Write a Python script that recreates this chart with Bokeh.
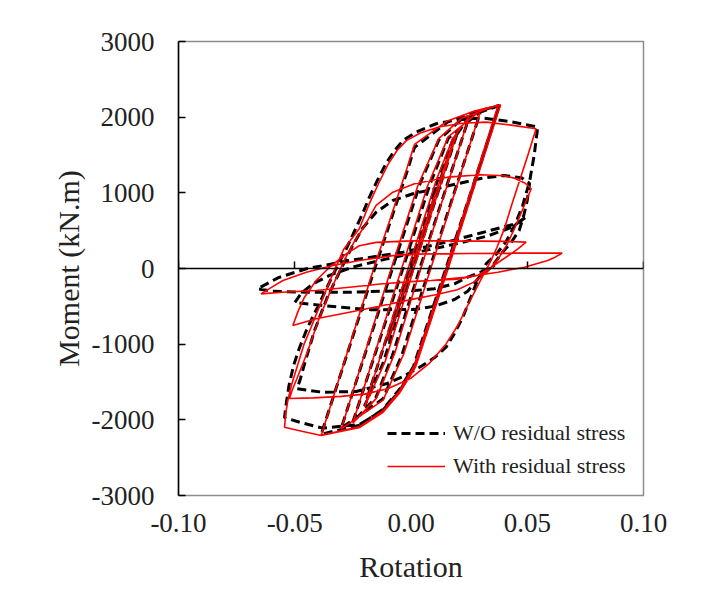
from bokeh.plotting import figure
from bokeh.models import LinearAxis, FixedTicker, Legend, Range1d
from bokeh.embed import file_html
from bokeh.resources import INLINE

# ---------------- data ----------------
# W/O residual stress (black dashed): rotation and moment, in loading order
wo_rot = [0, 0.010, -0.010, 0.014, 0.020, 0.0009, -0.012, -0.020, -0.0008, 0.012, 0.018, 0.025,
          0.0038, -0.008, -0.015, -0.025, -0.0035, 0.008, 0.016, 0.030, 0.0080, -0.004, -0.012, -0.030,
          -0.0080, 0.004, 0.012, 0.022, 0.038, 0.015, 0.001, -0.005, -0.012, -0.022, -0.0386,
          -0.0156, -0.0015, 0.0015, 0.0157, 0.0273, 0.038,
          0.0155, 0.0015, -0.005, -0.012, -0.022, -0.038, -0.047, -0.0544,
          -0.0535, -0.0525, -0.0505, -0.048, -0.0445, -0.040, -0.0335, -0.028, -0.0236, -0.0205, -0.0178,
          -0.0142, -0.0107, -0.007, -0.0035, 0.002, 0.0108, 0.020, 0.0302, 0.042, 0.0545,
          0.053, 0.051, 0.048, 0.0445, 0.041, 0.037, 0.0323, 0.028, 0.0223, 0.0185, 0.0151, 0.010, 0.0037,
          -0.0035, -0.0107, -0.0236, -0.038, -0.049,
          -0.0475, -0.046, -0.0415, -0.036, -0.030, -0.0255, -0.0209, -0.015, -0.0078, 0.0008, 0.010,
          0.020, 0.030, 0.040, 0.0475, 0.051,
          0.050, 0.0485, 0.0465, 0.043, 0.040, 0.0345, 0.030, 0.0244, 0.0187, 0.010, 0.0015, -0.017, -0.031, -0.050,
          -0.047, -0.042, -0.035, -0.025, -0.010, 0.005, 0.020, 0.033, 0.043, 0.0495,
          0.045, 0.030, 0.018, -0.0035, -0.0264, -0.045, -0.057, -0.066,
          -0.060, -0.045, -0.026, -0.012, 0.0015, 0.010, 0.0187, 0.0244, 0.030, 0.036]
wo_mom = [0, 940, -950, 1300, 1800, 0, -1250, -1820, 0, 1220, 1700, 2000,
          0, -1150, -1700, -2030, 0, 1100, 1720, 2080, 0, -1150, -1720, -2110,
          0, 1130, 1700, 1980, 2155, 0, -1300, -1600, -1860, -2070, -2190,
          0, 1300, 1600, 1934, 2066, 2155,
          0, -1300, -1620, -1870, -2060, -2110, -2040, -1970,
          -1750, -1550, -1282, -1050, -780, -500, -80, 250, 540, 750, 950,
          1180, 1390, 1560, 1690, 1800, 1913, 1965, 1990, 1945, 1868,
          1500, 1150, 830, 560, 360, 200, 62, -202, -644, -870, -1040, -1180, -1305,
          -1430, -1524, -1625, -1635, -1590,
          -1450, -1282, -820, -379, 0, 280, 529, 744, 899, 988, 1050,
          1120, 1190, 1230, 1200, 1124,
          900, 700, 500, 340, 238, 17, -92, -300, -410, -500, -540, -545, -510, -450,
          -320, -200, -90, 20, 130, 230, 330, 430, 540, 678,
          590, 470, 370, 215, 106, -4, -120, -268,
          -300, -313, -313, -300, -291, -268, -202, -115, -49, 40]

# With residual stress (red solid): rotation and moment, in loading order
with_rot = [0, 0.010, -0.010, 0.014, 0.020, 0.0012, -0.011, -0.020, -0.0012, 0.011, 0.018, 0.025,
            0.0042, -0.007, -0.015, -0.025, -0.0040, 0.007, 0.016, 0.030, 0.0085, -0.003, -0.012, -0.030,
            -0.0085, 0.003, 0.012, 0.022, 0.0375, 0.0152, 0.0015, -0.005, -0.012, -0.022, -0.0386,
            -0.0160, -0.002, 0.0015, 0.0157, 0.0273, 0.0385,
            0.016, 0.002, -0.005, -0.012, -0.022, -0.0386, -0.047, -0.0544,
            -0.0538, -0.053, -0.0515, -0.050, -0.048, -0.046, -0.043, -0.040, -0.034, -0.029, -0.0222,
            -0.018, -0.014, -0.010, -0.006, -0.002, 0.004, 0.012, 0.022, 0.0323, 0.043, 0.0538,
            0.0505, 0.047, 0.0435, 0.0402, 0.037, 0.034, 0.030, 0.025, 0.020, 0.015, 0.008, 0.0,
            -0.010, -0.020, -0.030, -0.042, -0.0523,
            -0.051, -0.049, -0.0445, -0.040, -0.034, -0.028, -0.0245, -0.0207, -0.015, -0.0078, 0.0015,
            0.0157, 0.030, 0.040, 0.0445, 0.049, 0.0517,
            0.048, 0.0445, 0.041, 0.038, 0.033, 0.027, 0.020, 0.010, 0.0015, -0.0121, -0.0265, -0.0408, -0.0508,
            -0.0485, -0.0458, -0.0408, -0.035, -0.0279, -0.0222, -0.015, 0.0, 0.020, 0.040, 0.0495,
            0.046, 0.043, 0.0345, 0.0287, 0.020, 0.0087, 0.0015, -0.0121, -0.0265, -0.0408, -0.0552, -0.0645,
            -0.0595, -0.0551, -0.045, -0.0336, -0.0222, -0.0078, 0.0015, 0.025, 0.045, 0.065,
            0.062, 0.0588, 0.0488, 0.0373, 0.023, 0.0087]
with_mom = [0, 950, -960, 1310, 1810, 0, -1220, -1830, 0, 1180, 1720, 2010,
            0, -1120, -1720, -2040, 0, 1080, 1740, 2090, 0, -1120, -1740, -2120,
            0, 1100, 1720, 1990, 2160, 0, -1280, -1620, -1880, -2090, -2205,
            0, 1300, 1640, 1950, 2080, 2165,
            0, -1300, -1650, -1900, -2100, -2208, -2150, -2098,
            -1900, -1750, -1550, -1400, -1200, -1000, -780, -550, -100, 250, 529,
            850, 1120, 1370, 1560, 1690, 1790, 1870, 1920, 1934, 1895, 1847,
            1520, 1190, 860, 530, 280, 80, -150, -450, -760, -1000, -1250, -1450,
            -1590, -1660, -1690, -1710, -1719,
            -1600, -1450, -1100, -700, -250, 150, 350, 525, 833, 1009, 1120,
            1207, 1238, 1225, 1194, 1130, 1054,
            780, 525, 300, 150, -40, -180, -280, -350, -401, -489, -577, -665, -753,
            -560, -379, -159, 17, 194, 300, 345, 365, 365, 358, 348,
            260, 194, 17, -92, -140, -159, -170, -202, -247, -291, -313, -335,
            -240, -159, -49, 40, 106, 170, 190, 198, 203, 203,
            150, 106, 17, -49, -115, -159]

x_ticks = [-0.10, -0.05, 0.0, 0.05, 0.10]
x_tick_labels = ["-0.10", "-0.05", "0.00", "0.05", "0.10"]
y_ticks = [-3000, -2000, -1000, 0, 1000, 2000, 3000]
y_tick_labels = ["-3000", "-2000", "-1000", "0", "1000", "2000", "3000"]
series_names = ["W/O residual stress", "With residual stress"]

# ---------------- figure ----------------
SERIF = "Liberation Serif"
TXT = "#222222"
p = figure(width=707, height=588, x_range=Range1d(-0.1, 0.1), y_range=Range1d(-3000, 3000),
           output_backend="svg", toolbar_location=None,
           min_border_left=178, min_border_top=41, min_border_right=64, min_border_bottom=93)
p.xgrid.visible = False
p.ygrid.visible = False
p.outline_line_color = "#8c8c8c"
p.outline_line_width = 1.5
p.background_fill_color = "white"
p.border_fill_color = "white"

# y axis
ya = p.yaxis[0]
ya.ticker = FixedTicker(ticks=y_ticks)
ya.major_label_overrides = {t: s for t, s in zip(y_ticks, y_tick_labels)}
ya.major_tick_in = 7
ya.major_tick_out = 0
ya.minor_tick_line_color = None
ya.axis_line_color = "black"
ya.axis_line_width = 1.5
ya.major_tick_line_width = 1.5
ya.major_label_text_font = SERIF
ya.major_label_text_font_size = "27px"
ya.major_label_text_color = TXT
ya.major_label_standoff = 24
ya.axis_label = "Moment (kN.m)"
ya.axis_label_text_font = SERIF
ya.axis_label_text_font_size = "30px"
ya.axis_label_text_font_style = "normal"
ya.axis_label_text_color = TXT
ya.axis_label_standoff = 4

# zero-line x axis with upward ticks (no labels)
zero_axis = LinearAxis(fixed_location=0, ticker=FixedTicker(ticks=x_ticks),
                       major_tick_in=7, major_tick_out=0, minor_tick_line_color=None,
                       axis_line_color="black", axis_line_width=1.5, major_tick_line_width=1.5,
                       major_label_text_color=None, major_label_text_font_size="10px",
                       major_label_standoff=0)
p.add_layout(zero_axis, "below")

# bottom x axis: labels only
xa = p.xaxis[0]
xa.ticker = FixedTicker(ticks=x_ticks)
xa.major_label_overrides = {t: s for t, s in zip(x_ticks, x_tick_labels)}
xa.axis_line_color = None
xa.major_tick_line_color = None
xa.minor_tick_line_color = None
xa.major_label_text_font = SERIF
xa.major_label_text_font_size = "27px"
xa.major_label_text_color = TXT
xa.major_label_standoff = 12
xa.axis_label = "Rotation"
xa.axis_label_text_font = SERIF
xa.axis_label_text_font_size = "30px"
xa.axis_label_text_font_style = "normal"
xa.axis_label_text_color = TXT
xa.axis_label_standoff = 15

# curves
r_wo = p.line(wo_rot, wo_mom, line_color="black", line_width=3, line_dash="9 5")
r_with = p.line(with_rot, with_mom, line_color="#ff0000", line_width=1.6)

legend = Legend(items=[(series_names[0], [r_wo]), (series_names[1], [r_with])],
                location=(209, 16), border_line_color=None, background_fill_alpha=0,
                label_text_font=SERIF, label_text_font_size="22px", label_text_color=TXT,
                glyph_width=58, glyph_height=22, label_height=22, label_standoff=8,
                spacing=7, padding=0, margin=0)
p.add_layout(legend)

open("out.html", "w").write(file_html(p, INLINE))
